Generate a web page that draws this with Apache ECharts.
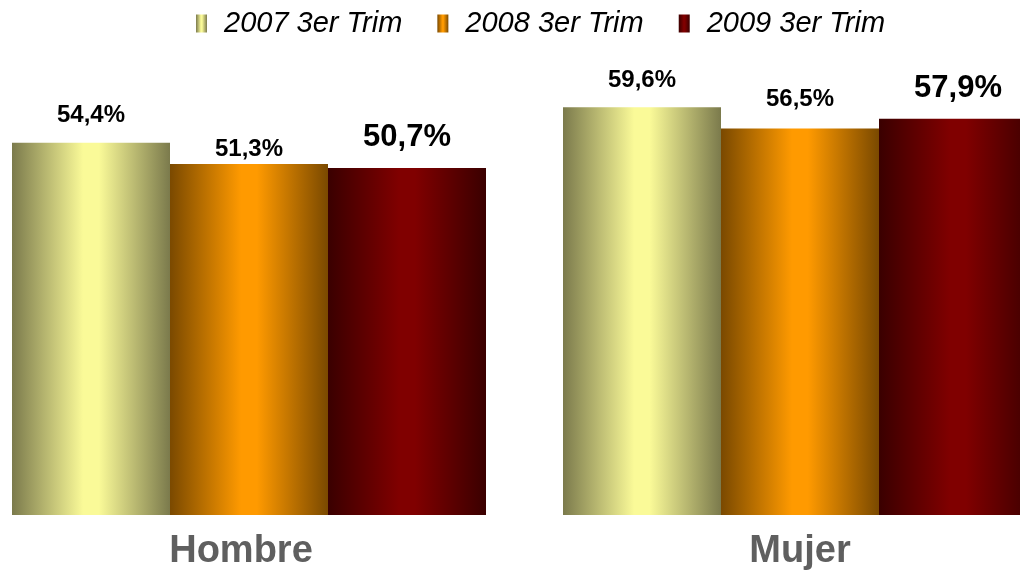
<!DOCTYPE html>
<html>
<head>
<meta charset="utf-8">
<script src="https://cdn.jsdelivr.net/npm/echarts@6/dist/echarts.min.js"></script>
<style>
  html, body { margin: 0; padding: 0; background: #fff; }
  #chart { width: 1020px; height: 571px; }
</style>
</head>
<body>
<div id="chart"></div>
<script>
// datos
var categories = ['Hombre', 'Mujer'];
var seriesNames = ['2007 3er Trim', '2008 3er Trim', '2009 3er Trim'];
var v2007 = [54.4, 59.6];
var v2008 = [51.3, 56.5];
var v2009 = [50.7, 57.9];

// estilos de etiqueta por barra (tamaño, distancia)
var labelSize = [[24, 24], [24, 24], [31, 31]];
var labelDist = [[15, 15], [3, 17], [15, 15]];

function grad(edge, mid) {
  return new echarts.graphic.LinearGradient(0, 0, 1, 0, [
    { offset: 0, color: edge },
    { offset: 0.45, color: mid },
    { offset: 0.55, color: mid },
    { offset: 1, color: edge }
  ]);
}
var colors = [
  grad('#7b7a4c', '#fafa98'),
  grad('#7a4900', '#ff9a00'),
  grad('#3a0000', '#800000')
];

var values = [v2007, v2008, v2009];
var font = 'Liberation Sans, Arial, sans-serif';

var chart = echarts.init(document.getElementById('chart'));
var series = values.map(function (vals, s) {
  return {
    name: seriesNames[s],
    type: 'bar',
    barWidth: 158,
    barGap: 0,
    clip: false,
    itemStyle: { color: colors[s] },
    data: vals.map(function (v, i) {
      return {
        value: v,
        label: { fontSize: labelSize[s][i], distance: labelDist[s][i] }
      };
    }),
    label: {
      show: true,
      position: 'top',
      color: '#000',
      fontWeight: 'bold',
      fontFamily: font,
      formatter: function (p) { return String(p.value).replace('.', ',') + '%'; }
    }
  };
});

chart.setOption({
  animation: false,
  legend: {
    top: 4,
    left: 191,
    itemWidth: 11,
    itemHeight: 18,
    itemGap: 35,
    icon: 'rect',
    data: seriesNames,
    textStyle: {
      fontSize: 29,
      fontStyle: 'italic',
      color: '#000',
      fontFamily: font,
      padding: [0, 0, 0, 12]
    }
  },
  // las categorías quedan en los bordes del grid (boundaryGap false)
  grid: { left: 249, right: 220, top: 36, bottom: 56, containLabel: false },
  xAxis: {
    type: 'category',
    boundaryGap: false,
    data: [
      { value: categories[0], textStyle: { padding: [0, 16, 0, 0] } },
      { value: categories[1] }
    ],
    axisLine: { show: false },
    axisTick: { show: false },
    axisLabel: {
      margin: 18,
      color: '#5f5f5f',
      fontSize: 38,
      fontWeight: 'bold',
      fontFamily: font
    }
  },
  yAxis: {
    type: 'value',
    min: 0,
    max: 70,
    show: false,
    splitLine: { show: false }
  },
  series: series
});
</script>
</body>
</html>
